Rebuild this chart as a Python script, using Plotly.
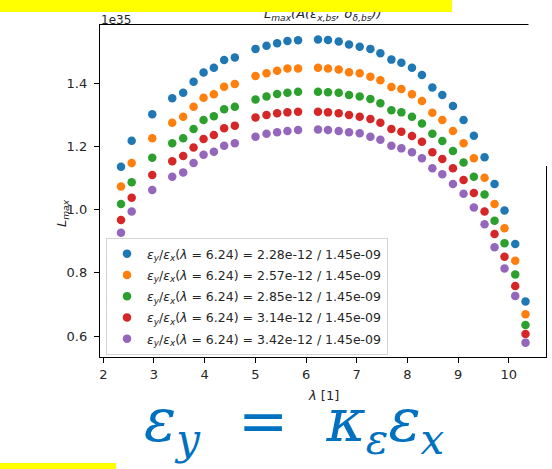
import plotly.graph_objects as go

# ---------------- data ----------------
lam = [2.349, 2.560, 2.966, 3.360, 3.576, 3.781, 3.978, 4.181, 4.384, 4.595,
       5.003, 5.220, 5.429, 5.633, 5.842, 6.236, 6.433, 6.644, 6.847, 7.058,
       7.269, 7.466, 7.683, 7.880, 8.089, 8.286, 8.491, 8.688, 8.897, 9.107,
       9.310, 9.521, 9.718, 9.915, 10.126, 10.329]

L_blue = [1.136, 1.218, 1.302, 1.353, 1.370, 1.405, 1.434, 1.449, 1.474, 1.482,
          1.509, 1.519, 1.527, 1.534, 1.536, 1.539, 1.537, 1.532, 1.523, 1.516,
          1.509, 1.495, 1.475, 1.465, 1.449, 1.426, 1.387, 1.363, 1.328, 1.284,
          1.234, 1.166, 1.081, 0.997, 0.891, 0.709]
L_orange = [1.073, 1.148, 1.226, 1.275, 1.294, 1.326, 1.354, 1.365, 1.389, 1.398,
            1.423, 1.432, 1.440, 1.447, 1.447, 1.449, 1.447, 1.444, 1.435, 1.432,
            1.421, 1.410, 1.388, 1.382, 1.365, 1.344, 1.307, 1.284, 1.249, 1.210,
            1.163, 1.101, 1.018, 0.941, 0.838, 0.669]
L_green = [1.018, 1.087, 1.164, 1.210, 1.226, 1.255, 1.284, 1.296, 1.318, 1.326,
           1.349, 1.358, 1.366, 1.370, 1.373, 1.373, 1.372, 1.370, 1.363, 1.358,
           1.350, 1.337, 1.315, 1.308, 1.294, 1.273, 1.240, 1.217, 1.186, 1.149,
           1.104, 1.048, 0.965, 0.894, 0.795, 0.635]
L_red = [0.967, 1.038, 1.110, 1.153, 1.170, 1.197, 1.224, 1.236, 1.258, 1.266,
         1.292, 1.300, 1.305, 1.308, 1.310, 1.310, 1.308, 1.305, 1.300, 1.294,
         1.287, 1.275, 1.255, 1.247, 1.233, 1.215, 1.182, 1.160, 1.131, 1.094,
         1.053, 0.994, 0.923, 0.851, 0.758, 0.606]
L_purple = [0.927, 0.994, 1.062, 1.104, 1.118, 1.148, 1.174, 1.183, 1.202, 1.210,
            1.231, 1.240, 1.245, 1.249, 1.252, 1.254, 1.252, 1.249, 1.245, 1.242,
            1.231, 1.221, 1.202, 1.194, 1.182, 1.163, 1.131, 1.112, 1.081, 1.050,
            1.007, 0.954, 0.881, 0.814, 0.727, 0.579]

series = [L_blue, L_orange, L_green, L_red, L_purple]
colors = ["#1f77b4", "#ff7f0e", "#2ca02c", "#d62728", "#9467bd"]
eps_y = ["2.28e-12", "2.57e-12", "2.85e-12", "3.14e-12", "3.42e-12"]
eps_x = "1.45e-09"
lam_ref = "6.24"

x_ticks = [2, 3, 4, 5, 6, 7, 8, 9, 10]
y_ticks = [0.6, 0.8, 1.0, 1.2, 1.4]

# ---------------- layout geometry (pixels) ----------------
W, H = 552, 469
ML, MR, MT, MB = 100, 6, 25, 112
PW, PH = W - ML - MR, H - MT - MB


def px(x):
    return (x - ML) / PW


def py(y):
    return (H - MB - y) / PH


FONT = "DejaVu Sans"
TXT = "#262626"

fig = go.Figure()
for i, (vals, col) in enumerate(zip(series, colors)):
    label = ("<i>ε<sub>y</sub></i>/<i>ε<sub>x</sub></i>(<i>λ</i> = %s) = %s / %s"
             % (lam_ref, eps_y[i], eps_x))
    fig.add_trace(go.Scatter(
        x=lam, y=vals, mode="markers", name=label, legendgroup="g%d" % i,
        marker=dict(color=col, size=8.5, line=dict(width=0)),
    ))

fig.update_layout(
    width=W, height=H, autosize=False,
    margin=dict(l=ML, r=MR, t=MT, b=MB),
    paper_bgcolor="white", plot_bgcolor="white",
    font=dict(family=FONT, size=13, color=TXT),
    showlegend=True,
    legend=dict(
        x=px(106), y=py(238), xanchor="left", yanchor="top",
        bgcolor="rgba(255,255,255,0.85)", bordercolor="#d4d4d4", borderwidth=1,
        font=dict(family=FONT, size=12.5, color=TXT),
        traceorder="grouped", tracegroupgap=2,
        itemsizing="trace",
    ),
    xaxis=dict(
        range=[1.935, 10.733], tickvals=x_ticks, ticktext=[str(t) for t in x_ticks],
        showgrid=False, zeroline=False, showline=True, mirror=True,
        linecolor="black", linewidth=1.3, ticks="outside", ticklen=5,
        tickcolor="black", tickwidth=1, tickfont=dict(size=13, color=TXT),
    ),
    yaxis=dict(
        range=[0.5335, 1.5846], tickvals=y_ticks,
        ticktext=["%.1f" % t for t in y_ticks],
        showgrid=False, zeroline=False, showline=True, mirror=True,
        linecolor="black", linewidth=1.3, ticks="outside", ticklen=5,
        tickcolor="black", tickwidth=1, tickfont=dict(size=13, color=TXT),
        ticklabelstandoff=4,
    ),
)

annotations = [
    # axis labels
    dict(text="<i>λ</i> [1]", x=px(323), y=py(396), xanchor="center", yanchor="middle",
         font=dict(size=13, color=TXT)),
    dict(text="<i>L<sub>max</sub></i>", x=px(63), y=py(213), xanchor="center",
         yanchor="middle", textangle=-90, font=dict(size=13, color=TXT)),
    # offset text
    dict(text="1e35", x=px(99), y=py(29), xanchor="left", yanchor="bottom",
         font=dict(size=12, color=TXT)),
    # title (partially covered by the highlight bar)
    dict(text="<i>L<sub>max</sub>(A(ε<sub>x,bs</sub>, σ<sub>δ,bs</sub>))</i>",
         x=px(323), y=py(25), xanchor="center", yanchor="bottom",
         font=dict(size=13, color=TXT)),
    # yellow highlight bar on top (drawn after title so it covers it)
    dict(text=" ", x=px(0), y=py(0), xanchor="left", yanchor="top",
         width=452, height=12, bgcolor="#FFFF00", borderpad=0, borderwidth=0,
         showarrow=False),
    # formula
    dict(text="<i>ε<sub>y</sub></i>&nbsp; =&nbsp; <i>κ<sub>ε</sub>ε<sub>x</sub></i>",
         x=px(294), y=py(424), xanchor="center", yanchor="middle",
         font=dict(family="DejaVu Serif", size=60, color="#0070C0")),
]
for a in annotations:
    a.setdefault("showarrow", False)
    a["xref"] = "paper"
    a["yref"] = "paper"
fig.update_layout(annotations=annotations)

shapes = [
    # white mask at the top right corner of the slide crop
    dict(type="rect", xref="paper", yref="paper", x0=px(528.5), x1=px(553),
         y0=py(166), y1=py(-2), fillcolor="white", line=dict(width=0), layer="above"),
    # yellow bar at bottom left
    dict(type="rect", xref="paper", yref="paper", x0=px(-1), x1=px(116),
         y0=py(470), y1=py(463), fillcolor="#FFFF00", line=dict(width=0), layer="above"),
]
fig.update_layout(shapes=shapes)

fig.write_html("out.html")
